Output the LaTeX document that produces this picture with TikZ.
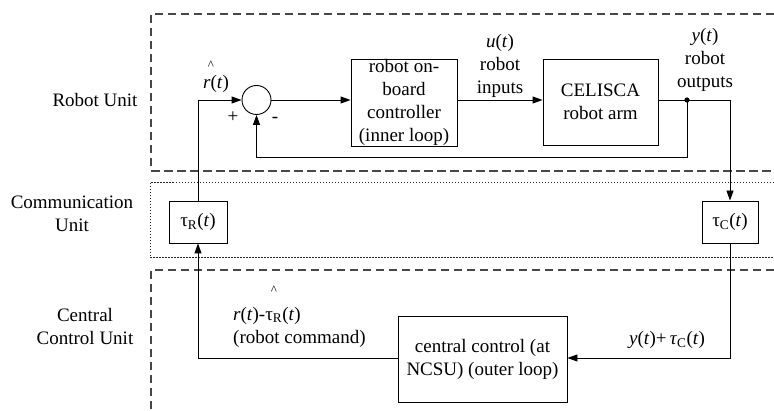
\documentclass[tikz,border=0pt]{standalone}
\usepackage{fontspec}
\setmainfont{Liberation Serif}
\usetikzlibrary{arrows.meta}
\begin{document}
\begin{tikzpicture}[x=1pt,y=-1pt,
  font=\fontsize{19}{23}\selectfont,
  blk/.style={draw,line width=0.9pt,rectangle,inner sep=0pt,align=center},
  conn/.style={line width=0.9pt},
  arr/.style={conn,-{Triangle[length=10pt,width=7pt]}},
  unitbox/.style={draw=black!72,line width=1.2pt,dash pattern=on 8.5pt off 4.5pt},
  commbox/.style={draw=black!85,line width=1pt,dash pattern=on 1.5pt off 1.5pt},
  lbl/.style={inner sep=0pt,align=center}]
\useasboundingbox (0,0) rectangle (774,411);
% unit frames
\draw[unitbox] (774,14) -- (151,14) -- (151,171) -- (774,171);
\draw[commbox] (774,183) -- (150,183) -- (150,258) -- (774,258);
\draw[unitbox] (774,270) -- (151,270) -- (151,411);
% unit labels
\node[lbl] (lru) at (95,100) {Robot Unit};
\node[lbl] (lcu) at (72,214) {Communication\\Unit};
\node[lbl] (lccu) at (85,327) {Central\\Control Unit};
% blocks
\node[draw,circle,line width=0.9pt,minimum size=29pt,inner sep=0pt] (sum) at (256.5,100) {};
\node[blk,minimum width=106pt,minimum height=87pt] (ctrl) at (404,102.5) {robot on-\\board\\controller\\(inner loop)};
\node[blk,minimum width=115pt,minimum height=86pt] (arm) at (600.5,102) {CELISCA\\robot arm};
\node[blk,minimum width=58pt,minimum height=42pt] (tauR) at (198,222) {τ\textsubscript{R}(\textit{t})};
\node[blk,minimum width=56pt,minimum height=42pt] (tauC) at (730,222) {τ\textsubscript{C}(\textit{t})};
\node[blk,minimum width=169pt,minimum height=86pt] (cc) at (482.5,359) {central control (at\\NCSU) (outer loop)};
% coordinates
\coordinate (dot) at (687,100);
\coordinate (ycorner) at (730,100);
\coordinate (fbr) at (687,157);
\coordinate (fbl) at (256.5,157);
\coordinate (ccr) at (730,358);
\coordinate (ccl) at (198,358);
\coordinate (inc) at (198,100);
\fill (dot) circle (2.6pt);
% connectors
\draw[arr] (sum.east) -- (sum.east -| ctrl.west);
\draw[arr] (sum.east -| ctrl.east) -- (sum.east -| arm.west);
\draw[arr] (sum.east -| arm.east) -- (ycorner) -- (tauC.north);
\draw[arr] (dot) -- (fbr) -- (fbl) -- (sum.south);
\draw[arr] (tauC.south) -- (ccr) -- (ccr -| cc.east);
\draw[arr] (ccr -| cc.west) -- (ccl) -- (tauR.south);
\draw[arr] (tauR.north) -- (inc) -- (sum.west);
% signal labels
\node[lbl] (rhat) at (216,84) {\textit{r}(\textit{t})};
\node[lbl,font=\fontsize{13}{13}\selectfont] (rhatc) at (211,65) {\textasciicircum};
\node[lbl] (plus) at (233,117) {+};
\node[lbl] (minus) at (275,120) {-};
\node[lbl] (ulab) at (500,66) {\textit{u}(\textit{t})\\robot\\inputs};
\node[lbl] (ylab) at (705,60) {\textit{y}(\textit{t})\\robot\\outputs};
\node[lbl,align=left,anchor=west] (rcmd) at (233,327) {\textit{r}(\textit{t})-τ\textsubscript{R}(\textit{t})\\(robot command)};
\node[lbl,font=\fontsize{13}{13}\selectfont] (rcmdc) at (274,290) {\textasciicircum};
\node[lbl] (yplus) at (667,340) {\textit{y}(\textit{t})+\,\textit{τ}\textsubscript{C}(\textit{t})};
\end{tikzpicture}
\end{document}
